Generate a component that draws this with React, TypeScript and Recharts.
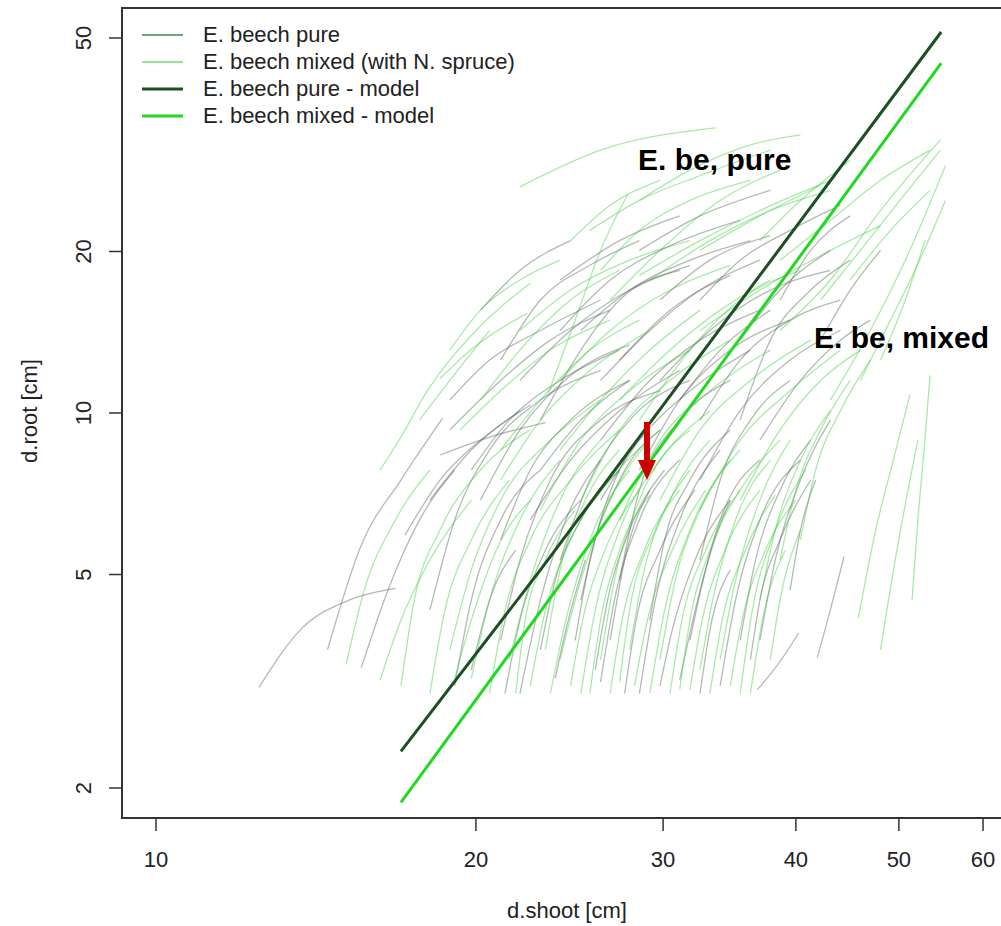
import React from "react";
import {
    LineChart,
    Line,
    XAxis,
    YAxis,
    ReferenceArea,
    ReferenceLine,
    ReferenceDot,
} from "recharts";

// axis ticks (log scales)
const xTicks = [10, 20, 30, 40, 50, 60];
const yTicks = [2, 5, 10, 20, 50];

// single tree trajectories, [d.shoot, d.root] in cm - E. beech pure
const pureCurves = [
    [[12.5, 3.08], [13.7, 3.96], [15.2, 4.48], [16.8, 4.71]],
    [[14.5, 3.62], [15.6, 5.67], [17.0, 7.5], [18.6, 9.77]],
    [[15.6, 3.35], [16.6, 4.78], [17.7, 6.32], [19.1, 7.83]],
    [[18.5, 8.35], [20.6, 9.02], [23.25, 9.6]],
    [[17.15, 5.92], [18.5, 7.5], [20.2, 8.9], [22.5, 10.35]],
    [[18.1, 4.29], [19.1, 6.32], [20.6, 8.53], [23.0, 10.57], [26.2, 12.0]],
    [[19.1, 3.1], [19.8, 4.48], [21.1, 6.32], [23.0, 7.83]],
    [[20.2, 6.88], [22.0, 9.3], [24.55, 11.75], [27.9, 13.4]],
    [[21.1, 3.77], [22.0, 5.32], [23.5, 7.5], [26.2, 9.7], [29.8, 11.0]],
    [[22.0, 3.0], [23.0, 4.48], [24.3, 6.32], [26.2, 8.17]],
    [[23.0, 9.7], [25.1, 13.1], [27.3, 16.24], [31.1, 18.45]],
    [[21.1, 12.55], [23.0, 16.24], [25.6, 18.85], [28.5, 20.95]],
    [[24.0, 14.25], [26.75, 17.7], [30.45, 20.5], [35.45, 22.85]],
    [[24.8, 3.77], [25.6, 5.32], [27.3, 7.5], [29.8, 9.3]],
    [[26.2, 3.15], [27.0, 4.48], [28.5, 6.32], [31.1, 8.17]],
    [[27.3, 4.88], [28.5, 7.18], [31.1, 9.7], [34.7, 11.5]],
    [[28.5, 3.0], [29.5, 4.48], [31.1, 6.32], [33.95, 8.53]],
    [[26.2, 11.5], [29.15, 14.25], [32.5, 16.95], [37.0, 19.27]],
    [[28.5, 20.1], [32.5, 23.3], [37.85, 26.0]],
    [[31.1, 3.18], [32.5, 4.67], [33.95, 6.32], [37.0, 8.17]],
    [[32.5, 5.32], [33.95, 7.5], [36.25, 9.7], [39.5, 11.5]],
    [[33.95, 3.1], [35.1, 4.48], [37.0, 6.32], [40.4, 8.17]],
    [[35.45, 9.7], [37.85, 13.67], [41.3, 16.95], [45.0, 19.27]],
    [[37.0, 3.77], [38.25, 5.32], [40.4, 7.5], [43.1, 9.7]],
    [[38.65, 16.24], [41.3, 20.1], [45.0, 23.3]],
    [[39.5, 4.67], [40.4, 6.05], [41.75, 7.5]],
    [[41.9, 3.5], [43.1, 4.29], [44.4, 5.4]],
    [[36.8, 3.05], [38.35, 3.37], [40.25, 3.89]],
    [[32.5, 16.24], [35.45, 19.27], [39.5, 21.9], [44.05, 24.4]],
    [[18.1, 6.88], [19.8, 8.53], [22.0, 10.1]],
    [[22.0, 11.5], [24.55, 14.25], [27.9, 16.95], [31.8, 18.85]],
    [[29.8, 11.5], [33.2, 14.25], [37.85, 16.95], [43.1, 18.45]],
    [[25.1, 4.48], [26.2, 6.32], [27.9, 8.53]],
    [[31.8, 3.77], [32.9, 5.1], [34.7, 6.88]],
    [[35.45, 3.77], [36.65, 5.32], [38.65, 7.18], [41.3, 8.9]],
    [[19.8, 3.32], [20.6, 4.48], [21.8, 5.55]],
    [[23.0, 3.62], [23.75, 4.88], [25.1, 6.32], [27.3, 7.83]],
    [[26.75, 3.77], [27.6, 5.32], [29.15, 7.18]],
    [[29.15, 4.11], [30.1, 5.8], [31.8, 7.5], [34.7, 9.3]],
    [[24.0, 17.7], [27.3, 20.95], [31.1, 23.3]],
    [[32.5, 9.7], [35.45, 12.55], [39.5, 14.9], [44.05, 16.24]],
    [[42.2, 13.67], [45.0, 16.95], [48.05, 20.1]],
    [[21.3, 3.0], [22.0, 4.11], [23.25, 5.55], [25.1, 6.88]],
    [[23.75, 3.2], [24.3, 3.94], [25.35, 5.32]],
    [[25.9, 3.32], [26.6, 4.48], [27.9, 6.05], [30.1, 7.83]],
    [[27.6, 3.0], [28.3, 4.11], [29.8, 5.55], [32.15, 7.18]],
    [[29.8, 3.1], [30.6, 3.94], [32.15, 5.32], [34.7, 6.88]],
    [[32.5, 3.0], [33.2, 3.94], [34.7, 5.1]],
    [[36.25, 3.47], [37.0, 4.48], [38.65, 5.8], [41.3, 7.5]],
    [[22.5, 6.32], [24.55, 8.17], [27.3, 10.1], [31.1, 12.0]],
    [[26.2, 6.88], [28.5, 8.9], [31.8, 11.0], [36.25, 13.1]],
    [[31.1, 10.57], [33.95, 13.1], [37.85, 15.55]],
    [[18.9, 9.3], [21.1, 11.5], [23.5, 13.67], [26.75, 15.55]],
    [[18.9, 10.57], [20.6, 12.55], [23.0, 14.25], [26.2, 16.24]],
    [[19.8, 7.83], [21.5, 9.7], [24.0, 11.5], [27.3, 13.1]],
    [[21.1, 5.8], [22.5, 7.83], [24.55, 9.7], [27.9, 11.5]],
    [[24.0, 5.32], [25.6, 7.5], [27.9, 9.7], [31.8, 11.5]],
    [[26.2, 8.9], [29.15, 11.5], [32.5, 13.67], [37.0, 15.55]],
    [[28.5, 7.83], [31.1, 10.57], [34.7, 13.1], [39.5, 14.9]],
    [[32.5, 7.5], [35.45, 10.1], [39.5, 12.55], [44.05, 14.25]],
    [[25.1, 14.25], [27.9, 16.95], [31.8, 19.27], [36.25, 20.95]],
    [[27.3, 12.55], [30.45, 15.55], [34.7, 18.05]],
    [[29.8, 16.24], [33.2, 19.27], [37.85, 21.4]],
    [[35.45, 13.67], [38.65, 16.95], [43.1, 20.1]],
    [[20.2, 15.55], [22.0, 18.45], [24.55, 20.95]],
    [[37.0, 8.9], [40.4, 11.5], [44.05, 13.67], [47.0, 14.9]],
    [[23.0, 7.83], [25.1, 9.7], [27.9, 11.5]],
];

// single tree trajectories - E. beech mixed (with N. spruce)
const mixedCurves = [
    [[16.25, 7.83], [17.0, 9.02], [18.0, 11.0], [19.9, 14.1], [22.5, 17.45]],
    [[18.5, 11.6], [19.9, 13.25], [22.35, 15.35]],
    [[16.25, 3.18], [17.0, 4.11], [18.1, 5.32], [19.8, 6.88]],
    [[17.0, 3.1], [17.5, 4.48], [18.5, 6.05], [20.2, 7.83], [22.5, 9.3]],
    [[18.1, 3.0], [18.7, 4.29], [19.8, 5.8], [21.5, 7.5]],
    [[18.9, 3.62], [19.8, 5.1], [21.1, 6.88], [23.5, 8.9], [26.2, 10.57]],
    [[19.8, 3.2], [20.6, 4.48], [22.0, 6.32], [24.0, 8.17]],
    [[20.6, 3.0], [21.3, 4.29], [22.5, 5.8], [24.55, 7.5], [27.3, 9.3]],
    [[21.5, 3.47], [22.5, 4.88], [24.0, 6.88], [26.2, 8.9]],
    [[22.5, 3.1], [23.25, 4.29], [24.55, 5.8], [26.75, 7.5], [29.8, 9.3]],
    [[23.5, 3.0], [24.3, 4.11], [25.6, 5.8], [27.9, 7.83]],
    [[24.0, 3.47], [25.1, 4.88], [26.75, 6.88], [29.15, 8.9]],
    [[25.1, 3.0], [25.9, 4.29], [27.3, 6.05], [29.8, 8.17], [33.2, 10.1]],
    [[26.2, 3.47], [27.0, 4.88], [28.5, 6.88], [31.8, 9.3]],
    [[27.3, 3.15], [27.9, 4.29], [29.5, 6.05], [31.8, 7.83]],
    [[27.9, 3.62], [28.8, 5.1], [30.45, 6.88], [33.2, 8.9]],
    [[29.15, 3.0], [30.1, 4.29], [31.8, 6.05], [34.7, 8.17]],
    [[29.8, 3.47], [30.8, 4.88], [32.5, 6.6], [35.45, 8.53]],
    [[31.1, 3.05], [31.8, 4.11], [33.2, 5.55], [35.45, 7.18], [38.65, 8.9]],
    [[32.5, 3.32], [33.4, 4.48], [35.1, 6.32], [37.85, 8.17]],
    [[33.95, 3.47], [35.1, 4.88], [37.0, 6.88], [39.5, 8.9]],
    [[35.45, 3.0], [36.4, 4.29], [38.25, 6.05], [40.85, 7.83]],
    [[37.0, 4.48], [38.25, 6.05], [40.4, 8.17], [43.1, 10.1]],
    [[38.65, 5.32], [40.0, 7.18], [42.2, 9.3], [45.0, 11.5]],
    [[40.4, 5.8], [41.75, 7.83], [44.05, 10.1], [47.0, 12.55]],
    [[45.8, 4.15], [47.55, 6.05], [49.4, 8.17], [51.2, 10.8]],
    [[48.05, 3.62], [49.6, 5.32], [51.0, 7.18], [52.1, 8.9]],
    [[51.45, 4.48], [52.1, 6.32], [52.8, 8.53], [53.5, 11.75]],
    [[22.0, 26.4], [26.2, 30.9], [33.6, 34.0]],
    [[25.6, 21.9], [28.5, 24.9], [32.5, 27.7], [37.85, 30.9]],
    [[28.5, 18.05], [32.5, 20.95], [37.0, 23.85], [43.1, 27.15]],
    [[32.5, 14.25], [37.0, 16.95], [42.2, 19.65], [48.05, 22.35]],
    [[38.65, 14.25], [43.1, 17.7], [48.05, 23.85], [54.7, 32.3]],
    [[43.1, 10.57], [47.0, 14.25], [51.2, 20.1], [55.3, 28.9]],
    [[37.0, 20.95], [40.4, 24.9], [45.0, 29.6]],
    [[45.0, 17.7], [49.1, 21.9], [53.5, 26.0]],
    [[48.05, 12.55], [50.7, 16.24], [52.9, 20.95]],
    [[23.4, 10.9], [24.8, 14.9], [26.2, 20.1], [27.8, 25.6]],
    [[26.75, 16.24], [29.8, 20.1], [33.95, 24.9], [38.65, 28.35]],
    [[28.5, 9.7], [31.8, 13.1], [35.45, 16.24], [40.4, 18.45]],
    [[19.1, 3.2], [19.8, 4.11], [20.9, 5.55], [22.5, 6.88]],
    [[21.8, 3.0], [22.25, 4.11], [23.25, 5.32], [24.8, 6.6]],
    [[23.25, 3.62], [24.0, 5.1], [25.35, 6.88], [27.3, 8.53]],
    [[24.55, 3.1], [25.2, 4.11], [26.45, 5.55], [28.5, 7.18]],
    [[25.6, 3.0], [26.2, 4.11], [27.3, 5.55], [29.15, 7.03]],
    [[26.75, 3.0], [27.45, 4.11], [28.8, 5.55], [31.1, 7.18]],
    [[28.2, 3.1], [29.0, 4.11], [30.6, 5.55], [32.9, 7.18]],
    [[30.45, 3.0], [31.25, 4.11], [32.9, 5.55], [35.45, 7.18]],
    [[31.8, 3.05], [32.65, 4.11], [34.3, 5.55], [37.0, 7.18]],
    [[33.2, 3.0], [34.1, 4.11], [35.85, 5.55], [38.25, 7.03]],
    [[34.7, 3.1], [35.6, 4.11], [37.45, 5.55], [40.0, 6.88]],
    [[36.25, 3.0], [37.2, 4.11], [39.1, 5.55]],
    [[37.85, 3.47], [38.65, 4.48], [40.4, 6.05]],
    [[24.0, 8.53], [26.2, 10.57], [29.15, 13.1], [32.5, 15.55]],
    [[21.1, 8.53], [23.0, 10.57], [25.6, 13.1], [28.5, 14.9]],
    [[20.2, 10.57], [22.0, 13.1], [24.55, 16.24], [27.3, 18.45]],
    [[27.3, 10.57], [30.45, 13.1], [33.95, 15.55], [37.85, 17.7]],
    [[15.1, 3.4], [15.7, 4.67], [16.8, 6.32], [18.1, 7.83]],
    [[19.33, 9.3], [21.1, 11.0], [23.5, 13.1], [26.75, 14.9]],
    [[21.1, 7.5], [23.0, 9.7], [25.6, 12.0], [29.15, 14.25]],
    [[23.0, 6.6], [25.1, 8.9], [27.9, 11.0], [31.8, 13.1]],
    [[25.1, 6.88], [27.3, 9.3], [30.45, 11.5], [34.7, 13.67]],
    [[27.3, 6.32], [29.8, 8.9], [33.2, 11.0], [37.85, 13.1]],
    [[29.8, 6.88], [32.5, 9.3], [36.25, 11.5], [41.3, 13.67]],
    [[32.5, 6.6], [35.45, 8.9], [39.5, 11.0], [44.05, 13.1]],
    [[35.45, 6.88], [38.65, 9.3], [42.2, 11.5], [46.0, 13.1]],
    [[22.0, 14.25], [24.55, 16.95], [27.9, 19.27], [31.8, 20.95]],
    [[24.0, 11.5], [26.75, 14.25], [30.45, 16.95], [34.7, 18.85]],
    [[29.15, 17.7], [33.2, 20.95], [37.85, 23.85], [43.1, 26.0]],
    [[32.5, 20.1], [37.0, 23.3], [42.2, 26.55]],
    [[26.2, 18.45], [28.5, 21.9], [31.8, 24.9], [36.25, 27.15]],
    [[18.9, 13.1], [20.2, 15.55], [22.0, 17.7], [24.0, 19.27]],
    [[38.65, 19.27], [43.1, 22.85], [48.05, 27.15], [53.5, 30.9]],
    [[42.2, 16.24], [46.0, 20.1], [50.1, 24.9], [54.7, 30.9]],
    [[46.0, 11.5], [49.1, 14.9], [52.3, 19.27], [55.3, 24.9]],
    [[17.7, 9.7], [18.9, 11.5], [20.6, 14.25]],
    [[28.5, 24.9], [31.8, 28.35], [36.25, 31.6], [40.4, 33.0]],
    [[24.55, 20.95], [26.75, 24.4], [29.8, 27.15]],
];

// fitted models
const pureModel = [[17.0, 2.34], [23.0, 5.1], [54.8, 51.3]];
const mixedModel = [[17.0, 1.88], [54.8, 44.9]];

// red arrow: shift from pure to mixed model at d.shoot ~ 29 cm
const arrowX = 28.97;
const arrowTop = 9.62;
const arrowNeck = 8.1;
const arrowTip = 7.5;

const xDomain = [9.29, 63.61];
const yDomain = [1.7584, 56.87];

const FONT = "'Liberation Sans', Arial, Helvetica, sans-serif";
const PURE_COL = "#4a5a4a";
const MIXED_COL = "#33cc33";
const PURE_MODEL_COL = "#1c4f22";
const MIXED_MODEL_COL = "#22d822";

const toPts = (c: number[][]) => c.map(([x, y]) => ({ x, y }));

const XTick = ({ x, y, payload }: any) => (
    <text x={x} y={y + 36} textAnchor="middle" fontSize={22} fontFamily={FONT} fill="#222">
        {payload.value}
    </text>
);

const YTick = ({ x, y, payload }: any) => (
    <text
        x={x - 18}
        y={y}
        transform={`rotate(-90 ${x - 18} ${y})`}
        textAnchor="middle"
        fontSize={22}
        fontFamily={FONT}
        fill="#222"
    >
        {payload.value}
    </text>
);

const legendRows = [
    { label: "E. beech pure", color: "#3a8a48", width: 1.5 },
    { label: "E. beech mixed (with N. spruce)", color: "#6fdc6f", width: 1.5 },
    { label: "E. beech pure - model", color: PURE_MODEL_COL, width: 3 },
    { label: "E. beech mixed - model", color: MIXED_MODEL_COL, width: 3 },
];

const App = () => {
    return (
        <div
            style={{
                position: "absolute",
                left: 0,
                top: 0,
                width: 1001,
                height: 926,
                overflow: "hidden",
                background: "#fff",
            }}
        >
            <LineChart
                width={1030}
                height={926}
                margin={{ top: 8, right: 20, left: 0, bottom: 0 }}
            >
                <XAxis
                    dataKey="x"
                    type="number"
                    scale="log"
                    domain={xDomain}
                    allowDataOverflow
                    ticks={xTicks}
                    tick={<XTick />}
                    tickSize={13}
                    tickMargin={0}
                    tickLine={{ stroke: "#333", strokeWidth: 1.5 }}
                    axisLine={false}
                    height={108}
                    interval={0}
                />
                <YAxis
                    type="number"
                    scale="log"
                    domain={yDomain}
                    allowDataOverflow
                    ticks={yTicks}
                    tick={<YTick />}
                    tickSize={13}
                    tickMargin={0}
                    tickLine={{ stroke: "#333", strokeWidth: 1.5 }}
                    axisLine={false}
                    width={122}
                    interval={0}
                />
                {pureCurves.map((c, i) => (
                    <Line
                        key={`p${i}`}
                        data={toPts(c)}
                        dataKey="y"
                        type="monotone"
                        stroke={PURE_COL}
                        strokeOpacity={0.42}
                        strokeWidth={1.3}
                        dot={false}
                        activeDot={false}
                        legendType="none"
                        isAnimationActive={false}
                    />
                ))}
                {mixedCurves.map((c, i) => (
                    <Line
                        key={`m${i}`}
                        data={toPts(c)}
                        dataKey="y"
                        type="monotone"
                        stroke={MIXED_COL}
                        strokeOpacity={0.42}
                        strokeWidth={1.3}
                        dot={false}
                        activeDot={false}
                        legendType="none"
                        isAnimationActive={false}
                    />
                ))}
                <Line
                    data={toPts(pureModel)}
                    dataKey="y"
                    stroke={PURE_MODEL_COL}
                    strokeWidth={3}
                    dot={false}
                    activeDot={false}
                    isAnimationActive={false}
                />
                <Line
                    data={toPts(mixedModel)}
                    dataKey="y"
                    stroke={MIXED_MODEL_COL}
                    strokeWidth={3}
                    dot={false}
                    activeDot={false}
                    isAnimationActive={false}
                />
                <ReferenceLine
                    segment={[
                        { x: arrowX, y: arrowTop },
                        { x: arrowX, y: arrowNeck },
                    ]}
                    stroke="#cc0000"
                    strokeWidth={6}
                    ifOverflow="visible"
                />
                <ReferenceDot
                    x={arrowX}
                    y={arrowTip}
                    ifOverflow="visible"
                    shape={(p: any) => (
                        <polygon
                            points={`${p.cx - 9},${p.cy - 20} ${p.cx + 9},${p.cy - 20} ${p.cx},${p.cy}`}
                            fill="#cc0000"
                        />
                    )}
                />
                <ReferenceDot
                    x={28.42}
                    y={28.38}
                    ifOverflow="visible"
                    shape={(p: any) => (
                        <text x={p.cx} y={p.cy} fontSize={30} fontWeight="bold" fontFamily={FONT} fill="#000">
                            E. be, pure
                        </text>
                    )}
                />
                <ReferenceDot
                    x={41.6}
                    y={13.22}
                    ifOverflow="visible"
                    shape={(p: any) => (
                        <text x={p.cx} y={p.cy} fontSize={30} fontWeight="bold" fontFamily={FONT} fill="#000">
                            E. be, mixed
                        </text>
                    )}
                />
                <ReferenceArea
                    x1={xDomain[0]}
                    x2={xDomain[1]}
                    y1={yDomain[0]}
                    y2={yDomain[1]}
                    fill="none"
                    stroke="#333"
                    strokeWidth={2}
                    ifOverflow="visible"
                />
            </LineChart>

            {/* legend */}
            <div style={{ position: "absolute", left: 142, top: 21, fontFamily: FONT, fontSize: 22, color: "#222" }}>
                {legendRows.map((r) => (
                    <div key={r.label} style={{ display: "flex", alignItems: "center", height: 27 }}>
                        <svg width={41} height={6} style={{ marginRight: 20 }}>
                            <line x1={0} x2={41} y1={3} y2={3} stroke={r.color} strokeWidth={r.width} />
                        </svg>
                        <span style={{ lineHeight: "27px" }}>{r.label}</span>
                    </div>
                ))}
            </div>

            {/* axis titles */}
            <div
                style={{
                    position: "absolute",
                    left: 467,
                    top: 898,
                    width: 200,
                    textAlign: "center",
                    fontFamily: FONT,
                    fontSize: 22,
                    lineHeight: "26px",
                    color: "#222",
                }}
            >
                d.shoot [cm]
            </div>
            <div
                style={{
                    position: "absolute",
                    left: -70,
                    top: 398,
                    width: 200,
                    height: 26,
                    textAlign: "center",
                    fontFamily: FONT,
                    fontSize: 22,
                    lineHeight: "26px",
                    color: "#222",
                    transform: "rotate(-90deg)",
                }}
            >
                d.root [cm]
            </div>
        </div>
    );
};

export default App;
